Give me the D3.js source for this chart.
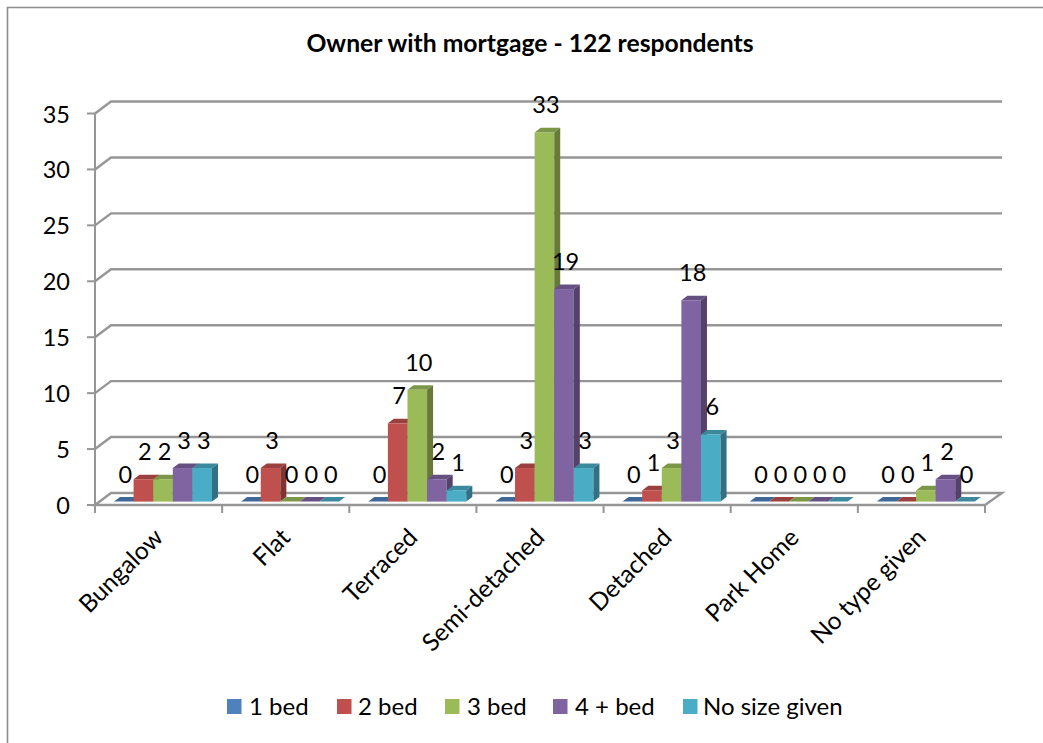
<!DOCTYPE html>
<html><head><meta charset="utf-8">
<script src="https://cdn.jsdelivr.net/npm/d3@7/dist/d3.min.js"></script>
<style>html,body{margin:0;padding:0;background:#fff}svg{display:block}text{font-family:Lato,"Open Sans",sans-serif;fill:#000}</style>
</head><body><svg id="c" width="1043" height="743"></svg>
<script>
const categories=["Bungalow","Flat","Terraced","Semi-detached","Detached","Park Home","No type given"];
const seriesNames=["1 bed","2 bed","3 bed","4 + bed","No size given"];
const oneBed=[0,0,0,0,0,0,0];
const twoBed=[2,3,7,3,1,0,0];
const threeBed=[2,0,10,33,3,0,1];
const fourBed=[3,0,2,19,18,0,2];
const noSize=[3,0,1,3,6,0,0];
const seriesValues=[oneBed,twoBed,threeBed,fourBed,noSize];
const yTicks=[0,5,10,15,20,25,30,35];
const colors=["#4f81bd","#c0504d","#9bbb59","#8064a2","#4bacc6"];
const tops=["#3f6797","#9a403e","#7c9647","#665082","#3c899e"];
const sides=["#355780","#7f3432","#667b3a","#54426b","#317183"];
const title="Owner with mortgage - 122 respondents";
const legendSwatchX=[227,337,445,553,683];
const legendTextX=[249,358,467,575,703];

const svg=d3.select("#c");
const grey="#969696";
svg.append("path").attr("d","M7.5,743V7.5H1043").attr("fill","none").attr("stroke","#8c8c8c").attr("stroke-width",1.6);
const x0=95,x1=985,dx=16,dy=-12;
const y=d3.scaleLinear().domain([0,35]).range([505,113.5]);
const xc=d3.scaleBand().domain(categories).range([x0,x1]);
const xs=d3.scaleBand().domain(seriesNames).range([19,117]);
const gridG=svg.append("g").attr("stroke",grey).attr("stroke-width",2.4).attr("fill","none");
yTicks.slice(1).forEach(t=>{
  gridG.append("path").attr("d",`M${x0},${y(t)}l${dx},${dy}H${x1+dx+1}`);
});
svg.append("path").attr("d",`M${x0},${y(0)}L${x0+dx},${y(0)+dy}H${x1+dx+1}L${x1},${y(0)}Z`).attr("fill","#fff").attr("stroke",grey).attr("stroke-width",2.4);
const ax=svg.append("g").attr("stroke",grey).attr("stroke-width",2);
ax.append("line").attr("x1",x0).attr("x2",x0).attr("y1",y(35)).attr("y2",y(0)+4);
yTicks.forEach(t=>ax.append("line").attr("x1",x0-8).attr("x2",x0).attr("y1",y(t)).attr("y2",y(t)));
[...categories.map(c=>xc(c)),x1].forEach(v=>{ax.append("line").attr("x1",v).attr("x2",v).attr("y1",y(0)).attr("y2",y(0)+8);});
svg.append("g").selectAll("text").data(yTicks).join("text").attr("x",70).attr("y",d=>y(d)+9).attr("text-anchor","end").attr("font-size",23.5).text(d=>d);
const base=y(0)-3.4, bx=6, by=-4.6;
const h=v=>y(0)-y(v);
categories.forEach((c,ci)=>{
  seriesValues.forEach((vals,si)=>{
    const v=vals[ci], X=xc(c)+xs(seriesNames[si]), W=xs.bandwidth(), H=h(v), T=base-H;
    const g=svg.append("g");
    g.append("path").attr("d",`M${X},${T}l${bx},${by}h${W}l${-bx},${-by}Z`).attr("fill",tops[si]);
    if(v>0){
      g.append("rect").attr("x",X).attr("y",T).attr("width",W).attr("height",H).attr("fill",colors[si]);
      g.append("path").attr("d",`M${X+W},${T}l${bx},${by}V${base+by}l${-bx},${-by}Z`).attr("fill",sides[si]);
    }
  });
});
categories.forEach((c,ci)=>{
  seriesValues.forEach((vals,si)=>{
    const v=vals[ci], X=xc(c)+xs(seriesNames[si])+xs.bandwidth()/2+1.5;
    svg.append("text").attr("x",X).attr("y",base-h(v)-19).attr("text-anchor","middle").attr("font-size",23.5).text(v);
  });
});
categories.forEach(c=>{
  const cx=xc(c)+xc.bandwidth()/2-7;
  svg.append("text").attr("transform",`translate(${cx},${y(0)+21}) rotate(-45)`).attr("text-anchor","end").attr("dy","0.75em").attr("font-size",24.5).text(c);
});
svg.append("text").attr("x",530).attr("y",52).attr("text-anchor","middle").attr("font-size",24.7).attr("font-weight",700).text(title);
seriesNames.forEach((n,i)=>{
  svg.append("rect").attr("x",legendSwatchX[i]).attr("y",699).attr("width",14.5).attr("height",15).attr("fill",colors[i]);
  svg.append("text").attr("x",legendTextX[i]).attr("y",715).attr("font-size",24).text(n);
});
</script></body></html>
